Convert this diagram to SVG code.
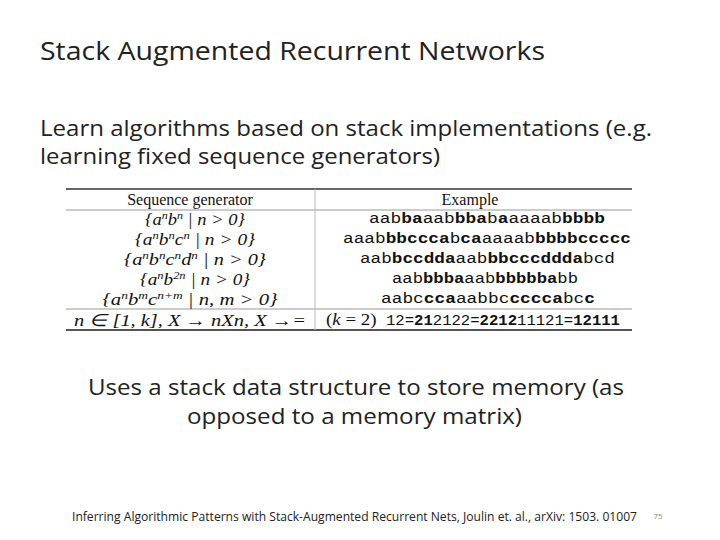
<svg xmlns="http://www.w3.org/2000/svg" width="720" height="540" viewBox="0 0 720 540">
<style>
.s{font-family:"Open Sans","Liberation Sans",sans-serif;fill:#222}
.m{font-family:"Liberation Serif",serif;font-style:italic;font-size:17px;fill:#111;text-anchor:middle}
.e{font-family:"Liberation Mono",monospace;font-size:14px;fill:#111}
.h{font-family:"Liberation Serif",serif;font-size:16px;fill:#111;text-anchor:middle}
.b{font-weight:bold}
</style>
<rect width="720" height="540" fill="#fff"/>
<text class="s" x="40" y="60" font-size="25" textLength="505" lengthAdjust="spacingAndGlyphs">Stack Augmented Recurrent Networks</text>
<text class="s" x="40" y="136" font-size="21" textLength="612" lengthAdjust="spacingAndGlyphs">Learn algorithms based on stack implementations (e.g.</text>
<text class="s" x="40" y="164" font-size="21" textLength="400" lengthAdjust="spacingAndGlyphs">learning fixed sequence generators)</text>
<g id="table">
<line x1="66" y1="189" x2="632" y2="189" stroke="#333" stroke-width="1.5"/>
<line x1="66" y1="210" x2="632" y2="210" stroke="#999"/>
<line x1="66" y1="309" x2="632" y2="309" stroke="#999"/>
<line x1="66" y1="330" x2="632" y2="330" stroke="#555" stroke-width="2"/>
<line x1="315" y1="189" x2="315" y2="330" stroke="#bbb"/>
<text class="h" x="190" y="205">Sequence generator</text>
<text class="h" x="470" y="205">Example</text>
<text class="m" x="195" y="225" textLength="100" lengthAdjust="spacingAndGlyphs">{a<tspan baseline-shift="super" font-size="11">n</tspan>b<tspan baseline-shift="super" font-size="11">n</tspan> | n &gt; 0}</text>
<text class="m" x="195" y="245" textLength="120" lengthAdjust="spacingAndGlyphs">{a<tspan baseline-shift="super" font-size="11">n</tspan>b<tspan baseline-shift="super" font-size="11">n</tspan>c<tspan baseline-shift="super" font-size="11">n</tspan> | n &gt; 0}</text>
<text class="m" x="195" y="265" textLength="142" lengthAdjust="spacingAndGlyphs">{a<tspan baseline-shift="super" font-size="11">n</tspan>b<tspan baseline-shift="super" font-size="11">n</tspan>c<tspan baseline-shift="super" font-size="11">n</tspan>d<tspan baseline-shift="super" font-size="11">n</tspan> | n &gt; 0}</text>
<text class="m" x="195" y="285" textLength="110" lengthAdjust="spacingAndGlyphs">{a<tspan baseline-shift="super" font-size="11">n</tspan>b<tspan baseline-shift="super" font-size="11">2n</tspan> | n &gt; 0}</text>
<text class="m" x="190" y="305" textLength="175" lengthAdjust="spacingAndGlyphs">{a<tspan baseline-shift="super" font-size="11">n</tspan>b<tspan baseline-shift="super" font-size="11">m</tspan>c<tspan baseline-shift="super" font-size="11">n+m</tspan> | n, m &gt; 0}</text>
<text class="m" x="190" y="326" textLength="232" lengthAdjust="spacingAndGlyphs">n ∈ [1, k], X → nXn, X →=</text>
<text class="e" x="369" y="223" textLength="236" lengthAdjust="spacingAndGlyphs">aab<tspan class="b">ba</tspan>aab<tspan class="b">bba</tspan>b<tspan class="b">a</tspan>aaaab<tspan class="b">bbbb</tspan></text>
<text class="e" x="343" y="243" textLength="288" lengthAdjust="spacingAndGlyphs">aaab<tspan class="b">bbccca</tspan>b<tspan class="b">ca</tspan>aaaab<tspan class="b">bbbbccccc</tspan></text>
<text class="e" x="360" y="263" textLength="255" lengthAdjust="spacingAndGlyphs">aab<tspan class="b">bccdda</tspan>aab<tspan class="b">bbcccddda</tspan>bcd</text>
<text class="e" x="392" y="283" textLength="186" lengthAdjust="spacingAndGlyphs">aab<tspan class="b">bbba</tspan>aab<tspan class="b">bbbbba</tspan>bb</text>
<text class="e" x="381" y="303" textLength="214" lengthAdjust="spacingAndGlyphs">aabc<tspan class="b">cca</tspan>aabbc<tspan class="b">cccca</tspan>bc<tspan class="b">c</tspan></text>
<text class="e" x="326" y="325" textLength="294" lengthAdjust="spacingAndGlyphs"><tspan font-family="Liberation Serif" font-size="17">(<tspan font-style="italic">k</tspan> = 2)</tspan> 12=<tspan class="b">21</tspan>2122=<tspan class="b">2212</tspan>11121=<tspan class="b">12111</tspan></text>
</g>
<text class="s" x="88" y="395" font-size="21" textLength="536" lengthAdjust="spacingAndGlyphs">Uses a stack data structure to store memory (as</text>
<text class="s" x="187" y="424" font-size="21" textLength="335" lengthAdjust="spacingAndGlyphs">opposed to a memory matrix)</text>
<text class="s" x="72" y="521" font-size="12" textLength="565" lengthAdjust="spacingAndGlyphs">Inferring Algorithmic Patterns with Stack-Augmented Recurrent Nets, Joulin et. al., arXiv: 1503. 01007</text>
<text x="658" y="519" font-size="8" text-anchor="middle" style="fill:#888;font-family:'Open Sans',sans-serif">75</text>
</svg>
